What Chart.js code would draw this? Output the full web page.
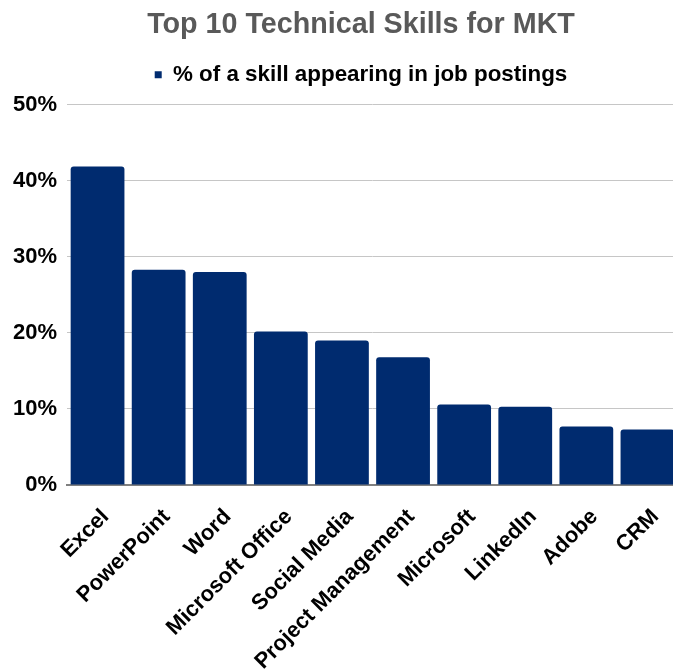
<!DOCTYPE html>
<html>
<head>
<meta charset="utf-8">
<script src="https://cdn.jsdelivr.net/npm/chart.js@4/dist/chart.umd.min.js"></script>
<style>
  html, body { margin: 0; padding: 0; background: #fff; overflow: hidden; }
  #wrap { width: 722px; height: 669px; }
</style>
</head>
<body>
<div id="wrap"><canvas id="chart" width="722" height="669"></canvas></div>
<script>
// categories and share of postings (%)
var skills = ["Excel", "PowerPoint", "Word", "Microsoft Office", "Social Media",
	"Project Management", "Microsoft", "LinkedIn", "Adobe", "CRM"];
var shares = [41.9, 28.3, 28.0, 20.2, 19.0, 16.8, 10.6, 10.3, 7.7, 7.3];
var yTicks = [0, 10, 20, 30, 40, 50];

var font = "'Liberation Sans', Arial, sans-serif";

// a little extra room under the legend
var legendGap = {
	id: 'legendGap',
	beforeInit: function (chart) {
		var fit = chart.legend.fit;
		chart.legend.fit = function () {
			fit.bind(chart.legend)();
			this.height += 9;
		};
	}
};

new Chart(document.getElementById("chart"), {
	type: 'bar',
	data: {
		labels: skills,
		datasets: [{
			label: "% of a skill appearing in job postings",
			data: shares,
			backgroundColor: "#002b6f",
			borderRadius: 3,
			borderSkipped: 'bottom',
			barPercentage: 0.88,
			categoryPercentage: 1.0
		}]
	},
	options: {
		responsive: false,
		animation: false,
		layout: { padding: 0 },
		plugins: {
			title: {
				display: true,
				text: 'Top 10 Technical Skills for MKT',
				color: '#595959',
				font: { family: font, size: 28.7, weight: 'bold' },
				padding: { top: 8, bottom: 11 }
			},
			legend: {
				labels: {
					color: '#000',
					boxWidth: 7,
					boxHeight: 7,
					font: { family: font, size: 22.4, weight: 'bold' }
				}
			},
			tooltip: { enabled: false }
		},
		scales: {
			x: {
				grid: { display: false },
				border: { color: '#808080', width: 2 },
				afterFit: function (axis) { axis.height = 184; },
				ticks: {
					color: '#000',
					autoSkip: false,
					maxRotation: 45,
					minRotation: 45,
					padding: 11,
					labelOffset: 8,
					font: { family: font, size: 22, weight: 'bold' }
				}
			},
			y: {
				min: 0,
				max: 50,
				afterBuildTicks: function (axis) {
					axis.ticks = yTicks.map(function (v) { return { value: v }; });
				},
				afterFit: function (axis) { axis.width = 67; },
				grid: { color: '#c6c6c6', drawTicks: false },
				border: { display: false },
				ticks: {
					color: '#000',
					padding: 10,
					font: { family: font, size: 22, weight: 'bold' },
					callback: function (v) { return v + '%'; }
				}
			},
			// empty right-hand axis: keeps the plot off the right edge
			yRight: {
				position: 'right',
				grid: { display: false },
				border: { display: false },
				ticks: { display: false },
				afterFit: function (axis) { axis.width = 44; }
			}
		}
	},
	plugins: [legendGap]
});
</script>
</body>
</html>
